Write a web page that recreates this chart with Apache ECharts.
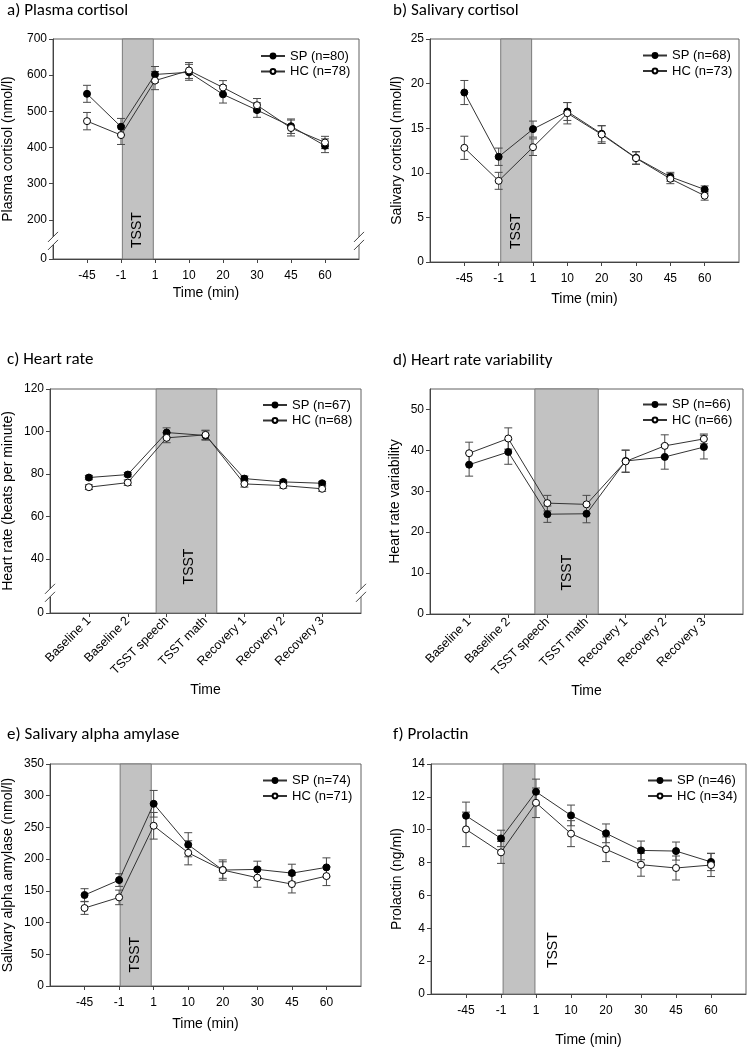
<!DOCTYPE html>
<html><head><meta charset="utf-8">
<script src="https://cdn.jsdelivr.net/npm/echarts@6/dist/echarts.min.js"></script>
<style>html,body{margin:0;padding:0;background:#fff}#c{width:753px;height:1049px}</style>
</head><body><div id="c"></div>
<script>
// ---------- data ----------
const timeCats = ['-45', '-1', '1', '10', '20', '30', '45', '60'];
const phaseCats = ['Baseline 1', 'Baseline 2', 'TSST speech', 'TSST math', 'Recovery 1', 'Recovery 2', 'Recovery 3'];

const plasmaSP   = [548.5, 457.5, 602, 608, 547, 503.5, 459, 405];
const plasmaSPse = [23.5, 23, 22, 22, 24, 20, 20, 19];
const plasmaHC   = [473, 434.5, 585, 613, 566, 517, 454, 414];
const plasmaHCse = [24, 26, 25, 22, 19, 18.5, 22, 17];

const salivSP   = [19.0, 11.8, 14.9, 16.87, 14.37, 11.68, 9.55, 8.13];
const salivSPse = [1.35, 0.97, 0.9, 1.0, 0.9, 0.7, 0.5, 0.4];
const salivHC   = [12.8, 9.1, 12.87, 16.68, 14.29, 11.64, 9.33, 7.43];
const salivHCse = [1.3, 0.95, 0.93, 1.2, 1.0, 0.7, 0.55, 0.5];

const hrSP   = [78.3, 79.7, 99.5, 98.1, 77.8, 76.25, 75.6];
const hrSPse = [1.0, 1.0, 2.2, 2.2, 1.2, 0.9, 0.9];
const hrHC   = [73.75, 75.9, 97.0, 98.4, 75.3, 74.5, 73.0];
const hrHCse = [1.1, 1.3, 2.3, 2.2, 1.5, 1.2, 1.2];

const hrvSP   = [36.5, 39.6, 24.4, 24.5, 37.4, 38.4, 40.8];
const hrvSPse = [2.8, 3.0, 2.0, 2.2, 2.7, 3.0, 2.9];
const hrvHC   = [39.3, 42.9, 27.1, 26.8, 37.3, 41.1, 42.8];
const hrvHCse = [2.7, 2.6, 1.9, 2.2, 2.7, 2.7, 1.2];

const amySP   = [143.4, 167, 287.3, 222.7, 182.8, 183.8, 178, 187];
const amySPse = [10, 10, 21, 19, 13, 13, 14, 15];
const amyHC   = [122.9, 139.7, 252.6, 210, 182.8, 170.7, 160.7, 173.3];
const amyHCse = [10, 11.5, 21, 19, 16, 15, 14, 15];

const prlSP   = [10.85, 9.47, 12.31, 10.87, 9.78, 8.74, 8.70, 8.04];
const prlSPse = [0.83, 0.5, 0.77, 0.63, 0.57, 0.57, 0.55, 0.53];
const prlHC   = [10.02, 8.62, 11.64, 9.76, 8.81, 7.87, 7.67, 7.85];
const prlHCse = [1.05, 0.67, 0.9, 0.79, 0.75, 0.7, 0.73, 0.7];

const panelTitles = ['a) Plasma cortisol', 'b) Salivary cortisol', 'c) Heart rate', 'd) Heart rate variability', 'e) Salivary alpha amylase', 'f) Prolactin'];
const yNames = ['Plasma cortisol (nmol/l)', 'Salivary cortisol (nmol/l)', 'Heart rate (beats per minute)', 'Heart rate variability', 'Salivary alpha amylase (nmol/l)', 'Prolactin (ng/ml)'];
const xNames = ['Time (min)', 'Time (min)', 'Time', 'Time', 'Time (min)', 'Time (min)'];
const spNames = ['SP (n=80)', 'SP (n=68)', 'SP (n=67)', 'SP (n=66)', 'SP (n=74)', 'SP (n=46)'];
const hcNames = ['HC (n=78)', 'HC (n=73)', 'HC (n=68)', 'HC (n=66)', 'HC (n=71)', 'HC (n=34)'];
// y axis tick values (first value of broken axes is shown as "0")
const yTicksA = [92, 200, 300, 400, 500, 600, 700];
const yTicksB = [0, 5, 10, 15, 20, 25];
const yTicksC = [14.5, 40, 60, 80, 100, 120];
const yTicksD = [0, 10, 20, 30, 40, 50];
const yTicksE = [0, 50, 100, 150, 200, 250, 300, 350];
const yTicksF = [0, 2, 4, 6, 8, 10, 12, 14];
const yMax = [700, 25, 120, 55, 350, 14];
// TSST band extent in category-index units
const tsstBands = [[1.04, 1.95], [1.06, 1.96], [1.73, 3.29], [1.68, 3.30], [1.03, 1.93], [1.06, 1.97]];
const tsstLabelPos = [[1.47, 172], [1.5, 3.45], [2.58, 36.4], [2.51, 10.1], [1.47, 49.3], [2.5, 2.67]];

// ---------- layout ----------
const FONT = "'Liberation Sans', Arial, sans-serif";
const TFONT = "Carlito, Lato, 'Open Sans', sans-serif";
const grids = [
  {left: 53, top: 39, width: 306, height: 220},
  {left: 430, top: 39, width: 309, height: 223},
  {left: 50, top: 389, width: 311, height: 224},
  {left: 430, top: 389, width: 313, height: 225},
  {left: 50, top: 764, width: 311, height: 222},
  {left: 431, top: 764, width: 315, height: 230}
];
const titlePos = [[7, 2], [393, 2], [7, 351], [393, 352], [7, 726], [393, 726]];
const legendPos = [[260, 49.5], [642, 49], [262, 398.5], [642, 398], [262, 774], [647, 774]];
const yNameGap = [38, 26, 35, 28, 35, 27];
const xNameGap = [27, 30, 70, 70, 31, 39];
const brokenBreak = [142, null, 24, null, null, null];

const panels = [
  {cats: timeCats, sp: plasmaSP, spse: plasmaSPse, hc: plasmaHC, hcse: plasmaHCse, ticks: yTicksA, broken: true},
  {cats: timeCats, sp: salivSP, spse: salivSPse, hc: salivHC, hcse: salivHCse, ticks: yTicksB},
  {cats: phaseCats, sp: hrSP, spse: hrSPse, hc: hrHC, hcse: hrHCse, ticks: yTicksC, broken: true, rot: true},
  {cats: phaseCats, sp: hrvSP, spse: hrvSPse, hc: hrvHC, hcse: hrvHCse, ticks: yTicksD, rot: true},
  {cats: timeCats, sp: amySP, spse: amySPse, hc: amyHC, hcse: amyHCse, ticks: yTicksE},
  {cats: timeCats, sp: prlSP, spse: prlSPse, hc: prlHC, hcse: prlHCse, ticks: yTicksF}
];

function errRender(params, api) {
  const x = api.value(0), lo = api.value(1), hi = api.value(2);
  const a = api.coord([x, lo]), b = api.coord([x, hi]);
  const w = 4;
  const st = {stroke: '#4a4a4a', lineWidth: 1};
  return {type: 'group', children: [
    {type: 'line', shape: {x1: a[0], y1: a[1], x2: b[0], y2: b[1]}, style: st},
    {type: 'line', shape: {x1: a[0] - w, y1: a[1], x2: a[0] + w, y2: a[1]}, style: st},
    {type: 'line', shape: {x1: b[0] - w, y1: b[1], x2: b[0] + w, y2: b[1]}, style: st}
  ]};
}

const option = {
  animation: false,
  backgroundColor: '#fff',
  title: panelTitles.map((t, i) => ({text: t, left: titlePos[i][0], top: titlePos[i][1], padding: 0,
    textStyle: {fontFamily: TFONT, fontSize: 17, fontWeight: 'normal', color: '#000'}})),
  grid: grids.map(g => Object.assign({show: true, borderColor: '#606060', borderWidth: 1, backgroundColor: 'transparent'}, g)),
  legend: panels.map((p, i) => ({
    data: [spNames[i], hcNames[i]], orient: 'vertical', left: legendPos[i][0], top: legendPos[i][1],
    padding: 0, itemWidth: 24, itemHeight: 6, itemGap: 2.5, selectedMode: false,
    textStyle: {fontFamily: FONT, fontSize: 13, color: '#000', lineHeight: 13}
  })),
  xAxis: panels.map((p, i) => {
    const idx = p.cats.map((c, k) => k);
    return {
      type: 'value', gridIndex: i, min: -1, max: p.cats.length, interval: 1,
      name: xNames[i], nameLocation: 'middle', nameGap: xNameGap[i],
      nameTextStyle: {fontFamily: FONT, fontSize: 14, color: '#000'},
      axisLine: {onZero: false, lineStyle: {color: '#444'}},
      axisTick: {show: true, length: 4, lineStyle: {color: '#444'}, customValues: idx},
      axisLabel: {customValues: idx, fontFamily: FONT, fontSize: p.rot ? 12.5 : 12, color: '#000',
        margin: p.rot ? 6 : 11, rotate: p.rot ? 45 : 0,
        formatter: v => p.cats[Math.round(v)] !== undefined ? p.cats[Math.round(v)] : ''},
      splitLine: {show: false}
    };
  }),
  yAxis: panels.map((p, i) => ({
    type: 'value', gridIndex: i, min: p.ticks[0], max: yMax[i],
    name: yNames[i], nameLocation: 'middle', nameGap: yNameGap[i],
    nameTextStyle: {fontFamily: FONT, fontSize: 14, color: '#000'},
    axisLine: {show: true, onZero: false, lineStyle: {color: '#444'}},
    axisTick: {show: true, length: 4, lineStyle: {color: '#444'}, customValues: p.ticks},
    axisLabel: {customValues: p.ticks, fontFamily: FONT, fontSize: 12, color: '#000', margin: 6,
      formatter: v => (p.broken && v === p.ticks[0]) ? '0' : String(v)},
    splitLine: {show: false}
  })),
  series: []
};

panels.forEach((p, i) => {
  option.series.push({
    type: 'custom', xAxisIndex: i, yAxisIndex: i, renderItem: errRender, z: 3, clip: false,
    encode: {x: 0, y: [1, 2]}, silent: true,
    data: p.sp.map((v, k) => [k, v - p.spse[k], v + p.spse[k]]),
    markArea: {silent: true, itemStyle: {color: '#c2c2c2', borderColor: '#7a7a7a', borderWidth: 1},
      data: [[{xAxis: tsstBands[i][0]}, {xAxis: tsstBands[i][1]}]]}
  });
  option.series.push({
    type: 'custom', xAxisIndex: i, yAxisIndex: i, renderItem: errRender, z: 3, clip: false,
    encode: {x: 0, y: [1, 2]}, silent: true,
    data: p.hc.map((v, k) => [k, v - p.hcse[k], v + p.hcse[k]])
  });
  option.series.push({
    name: spNames[i], type: 'line', xAxisIndex: i, yAxisIndex: i, z: 5,
    data: p.sp.map((v, k) => [k, v]), symbol: 'circle', symbolSize: 7,
    itemStyle: {color: '#000', borderColor: '#000', borderWidth: 1},
    lineStyle: {color: '#333', width: 1}
  });
  option.series.push({
    name: hcNames[i], type: 'line', xAxisIndex: i, yAxisIndex: i, z: 5,
    data: p.hc.map((v, k) => [k, v]), symbol: 'circle', symbolSize: 7,
    itemStyle: {color: '#fff', borderColor: '#000', borderWidth: 1},
    lineStyle: {color: '#333', width: 1}
  });
});

const chart = echarts.init(document.getElementById('c'), null, {renderer: 'canvas'});
chart.setOption(option);

// annotations: TSST labels and axis-break marks
const graphics = [];
panels.forEach((p, i) => {
  const pt = chart.convertToPixel({gridIndex: i}, tsstLabelPos[i]);
  graphics.push({type: 'text', x: pt[0], y: pt[1], rotation: Math.PI / 2, z: 20,
    style: {text: 'TSST', fontFamily: FONT, fontSize: 14, fill: '#000', align: 'center', verticalAlign: 'middle'}});
  if (brokenBreak[i] !== null) {
    const g = grids[i];
    const yc = chart.convertToPixel({gridIndex: i}, [0, brokenBreak[i]])[1];
    [g.left, g.left + g.width].forEach(x => {
      graphics.push({type: 'rect', z: 20, shape: {x: x - 2, y: yc - 4, width: 4, height: 8}, style: {fill: '#fff'}});
      graphics.push({type: 'line', z: 21, shape: {x1: x - 5, y1: yc + 1, x2: x + 5, y2: yc - 9}, style: {stroke: '#444', lineWidth: 1}});
      graphics.push({type: 'line', z: 21, shape: {x1: x - 5, y1: yc + 9, x2: x + 5, y2: yc - 1}, style: {stroke: '#444', lineWidth: 1}});
    });
  }
});
chart.setOption({graphic: graphics});
</script></body></html>
